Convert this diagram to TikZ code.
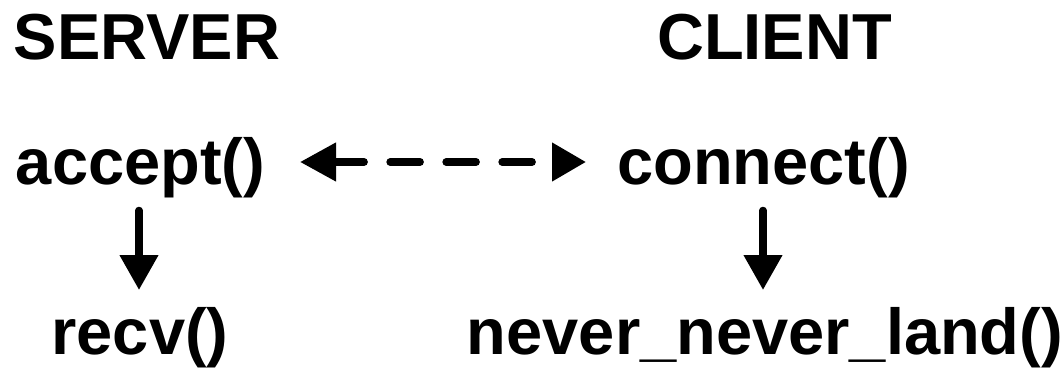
\documentclass[tikz,border=0pt]{standalone}
\usepackage{fontspec}
\setmainfont{Liberation Sans}
\usetikzlibrary{arrows.meta,calc}
\tikzset{
  lbl/.style={font=\fontsize{65}{78}\selectfont\bfseries, inner sep=0pt, anchor=base},
  conn/.style={line width=7.5pt, line cap=round, -{Triangle[length=35pt,width=37pt]}},
  dasharrow/.style={line width=7.5pt, line cap=round, dash pattern=on 30pt off 26pt,
    {Triangle[length=36pt,width=37pt]}-{Triangle[length=34pt,width=37pt]}}
}
\begin{document}
\begin{tikzpicture}[x=1pt,y=1pt]
\useasboundingbox (0,0) rectangle (1062,367);
\node[lbl] (server) at (147,307) {SERVER};
\node[lbl] (client) at (774.5,307) {CLIENT};
\node[lbl] (accept) at (140.5,182) {accept()};
\node[lbl] (connect) at (763.5,182) {connect()};
\node[lbl] (recv) at (140,13) {recv()};
\node[lbl] (never) at (765,13) {never\_never\_land()};
\draw[dasharrow] ($(accept.base)+(159.5,23)$) -- ($(connect.base)+(-177.5,23)$);
\draw[conn] ($(accept.base)+(-1.5,-25.5)$) -- ($(recv.base)+(-1,64)$);
\draw[conn] ($(connect.base)+(-0.5,-25.5)$) -- ($(never.base)+(-2,64)$);
\end{tikzpicture}
\end{document}
